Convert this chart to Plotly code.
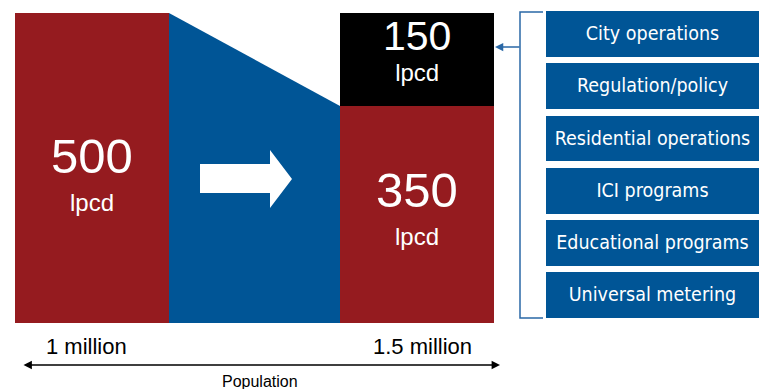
import plotly.graph_objects as go

# Per-capita demand (litres per capita per day)
before_lpcd = 500
after_lpcd = 350
saved_lpcd = 150
lpcd_unit = "lpcd"

# Population labels
population_labels = ["1 million", "1.5 million"]
population_title = "Population"

# Conservation programs delivering the savings
programs = [
    "City operations",
    "Regulation/policy",
    "Residential operations",
    "ICI programs",
    "Educational programs",
    "Universal metering",
]

RED = "#951b1f"
BLUE = "#005596"
LINE_BLUE = "#2a68a6"
W, H = 763, 389
NUM_FONT = "Liberation Sans, Arial, Helvetica, sans-serif"
NARROW_FONT = "DejaVu Sans Condensed, Liberation Sans Narrow, sans-serif"


def pp(py):
    """Pixel row -> paper y."""
    return 1 - py / H


# vertical scale: 0 lpcd sits at row 323, 500 lpcd at row 13
base_row, top_row = 323, 13
k = (base_row - top_row) / before_lpcd
y_range = [-(H - base_row) / k, before_lpcd + top_row / k]

left_x0, left_x1 = 15, 169
right_x0, right_x1 = 340, 494
bar_w = left_x1 - left_x0

fig = go.Figure()

# blue band linking the two populations
fig.add_trace(go.Scatter(
    x=[left_x1, left_x1, right_x0, right_x0, left_x1],
    y=[0, before_lpcd, after_lpcd, 0, 0],
    fill="toself", fillcolor=BLUE, mode="lines", line=dict(width=0),
    hoverinfo="skip", showlegend=False, xaxis="x", yaxis="y",
))

# demand bars
fig.add_trace(go.Bar(
    x=[(left_x0 + left_x1) / 2, (right_x0 + right_x1) / 2],
    y=[before_lpcd, after_lpcd], width=bar_w,
    marker=dict(color=RED, line=dict(width=0)),
    hoverinfo="skip", showlegend=False, xaxis="x", yaxis="y",
))
fig.add_trace(go.Bar(
    x=[(right_x0 + right_x1) / 2], y=[saved_lpcd], base=[after_lpcd], width=bar_w,
    marker=dict(color="black", line=dict(width=0)),
    hoverinfo="skip", showlegend=False, xaxis="x", yaxis="y",
))

# program boxes (own subplot)
fig.add_trace(go.Bar(
    y=programs, x=[213] * len(programs), base=546, orientation="h", width=0.88,
    marker=dict(color=BLUE, line=dict(width=0)),
    text=programs, textposition="inside", insidetextanchor="middle",
    constraintext="none",
    textfont=dict(color="white", size=19.5, family=NARROW_FONT),
    xaxis="x2", yaxis="y2", hoverinfo="skip", showlegend=False,
))

annotations = []


def label(x, y, text, size, color="white", family=NUM_FONT):
    annotations.append(dict(
        x=x, y=pp(y), xref="x", yref="paper", text=text, showarrow=False,
        font=dict(size=size, color=color, family=family),
        xanchor="center", yanchor="middle",
    ))


lx = (left_x0 + left_x1) / 2
rx = (right_x0 + right_x1) / 2
label(lx, 156, str(before_lpcd), 49)
label(lx, 202, lpcd_unit, 24)
label(rx, 190, str(after_lpcd), 49)
label(rx, 236, lpcd_unit, 24)
# savings value and unit stacked tightly in one label
label(rx, 50, f'<span style="font-size:41px">{saved_lpcd}</span><br>{lpcd_unit}', 24)

label(86, 346, population_labels[0], 22, color="black")
label(422, 346, population_labels[1], 22, color="black")
label(260, 381, population_title, 16, color="black")

# population axis double arrow
annotations.append(dict(
    x=500, y=pp(365), xref="x", yref="paper", ax=-478, ay=0,
    axref="pixel", ayref="pixel", text="", showarrow=True,
    arrowhead=2, arrowside="end+start", arrowsize=1.2, arrowwidth=1.4,
    arrowcolor="black",
))

# arrow from bracket to savings block
annotations.append(dict(
    x=495, y=pp(47), xref="x", yref="paper", ax=26, ay=0,
    axref="pixel", ayref="pixel", text="", showarrow=True,
    arrowhead=2, arrowsize=1.1, arrowwidth=1.5, arrowcolor=LINE_BLUE,
))

shapes = [
    # white arrow across the band
    dict(type="path", xref="x", yref="paper",
         path=(f"M 200 {pp(164)} L 270 {pp(164)} L 270 {pp(150)} L 292 {pp(179)} "
               f"L 270 {pp(208)} L 270 {pp(193)} L 200 {pp(193)} Z"),
         fillcolor="white", line=dict(width=0), layer="above"),
    # bracket grouping the programs
    dict(type="path", xref="x", yref="paper",
         path=f"M 543 {pp(12)} L 520 {pp(12)} L 520 {pp(318)} L 543 {pp(318)}",
         line=dict(color=LINE_BLUE, width=1.5)),
]

pitch = (272 - 11) / 5
top_c, bot_c = 34 - pitch / 2, 295 + pitch / 2

fig.update_layout(
    width=W, height=H, margin=dict(l=0, r=0, t=0, b=0),
    paper_bgcolor="white", plot_bgcolor="rgba(0,0,0,0)",
    barmode="overlay", bargap=0,
    xaxis=dict(domain=[0, 1], range=[0, W], visible=False, fixedrange=True,
               anchor="y"),
    yaxis=dict(domain=[0, 1], range=y_range, visible=False, fixedrange=True,
               anchor="x", type="linear"),
    xaxis2=dict(domain=[0, 1], range=[0, W], visible=False, fixedrange=True,
                anchor="y2"),
    yaxis2=dict(domain=[pp(bot_c), pp(top_c)], range=[len(programs) - 0.5, -0.5],
                visible=False, anchor="x2", type="category", fixedrange=True),
    annotations=annotations, shapes=shapes, showlegend=False,
)

fig.write_html("out.html", config={"displayModeBar": False})
